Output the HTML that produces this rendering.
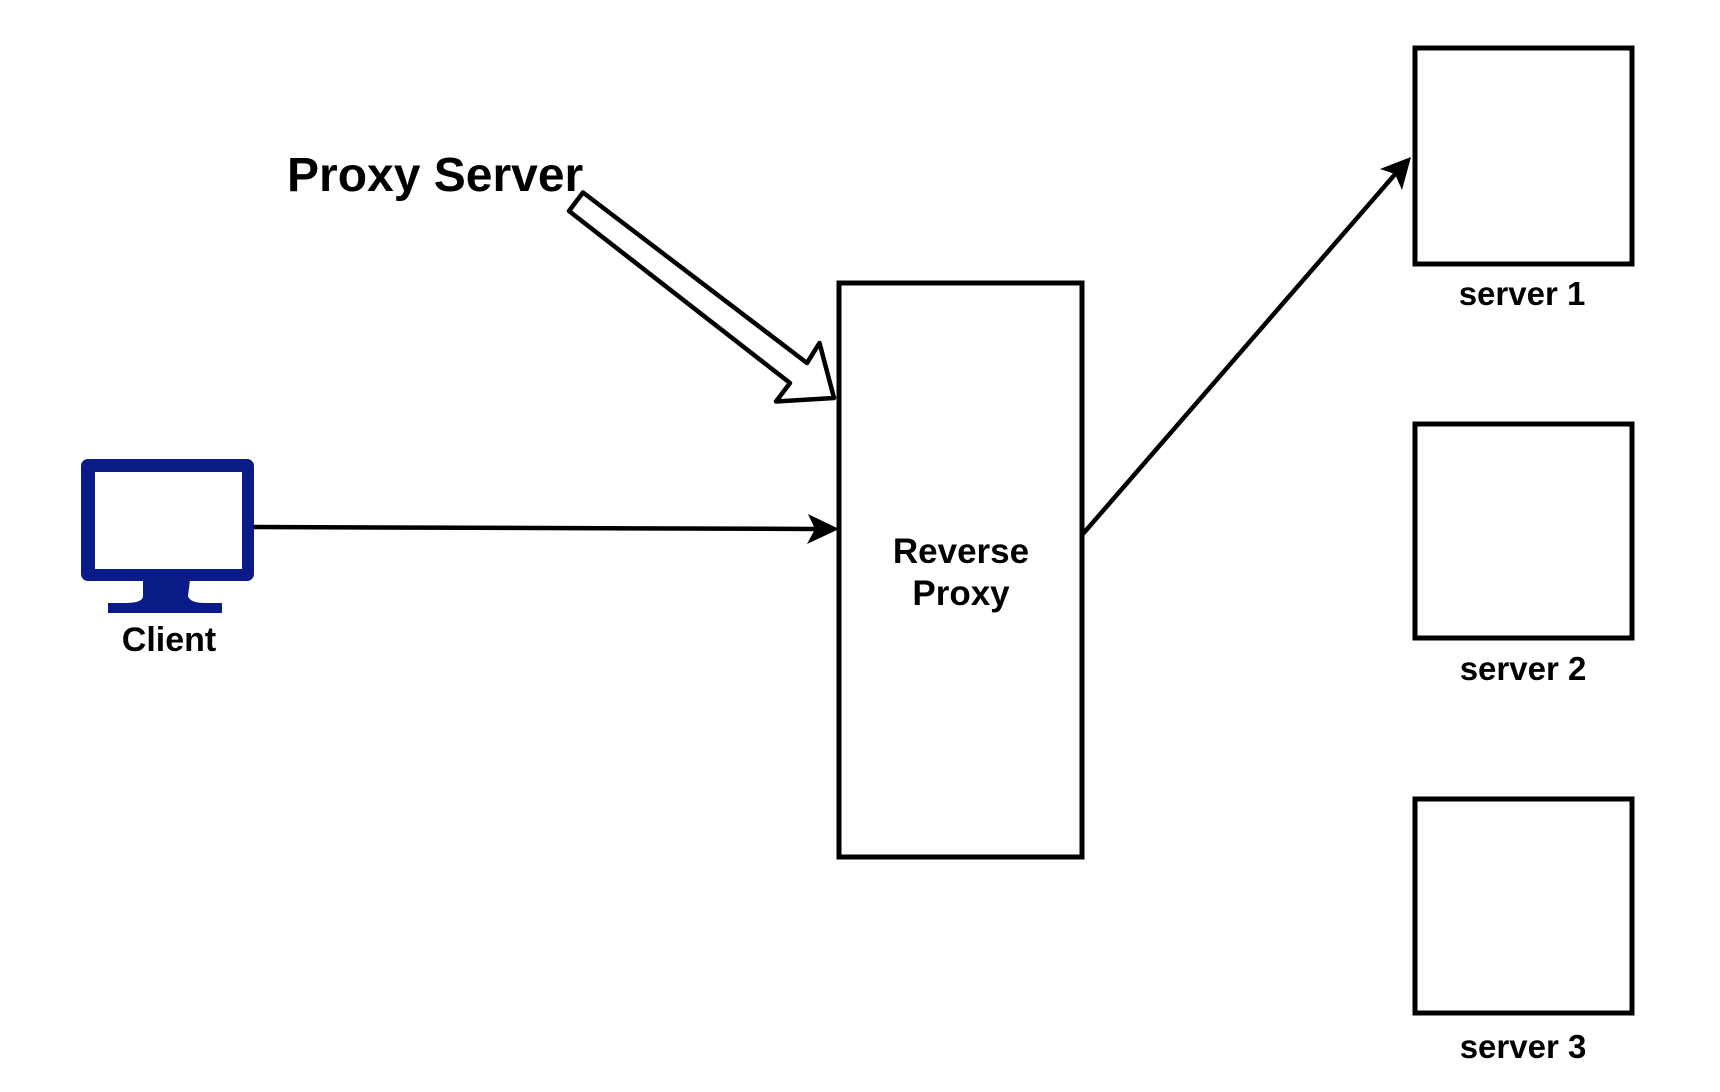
<!DOCTYPE html>
<html><head><meta charset="utf-8"><style>
html,body{margin:0;padding:0;background:#fff;width:1720px;height:1092px;overflow:hidden}
svg{display:block}
text{font-family:"Liberation Sans",Arial,sans-serif;font-weight:bold;fill:#000}
</style></head><body>
<svg width="1720" height="1092" viewBox="0 0 1720 1092" xmlns="http://www.w3.org/2000/svg">
<rect width="1720" height="1092" fill="#fff"/>
<!-- Reverse proxy -->
<rect x="839" y="283" width="243" height="574" fill="#fff" stroke="#000" stroke-width="5"/>
<text x="961" y="563" font-size="35" text-anchor="middle">Reverse</text>
<text x="961" y="605" font-size="35" text-anchor="middle">Proxy</text>
<!-- servers -->
<rect x="1415" y="48" width="217" height="216" fill="#fff" stroke="#000" stroke-width="5"/>
<rect x="1415" y="424" width="217" height="214" fill="#fff" stroke="#000" stroke-width="5"/>
<rect x="1415" y="799" width="217" height="214" fill="#fff" stroke="#000" stroke-width="5"/>
<text x="1522" y="305" font-size="33" text-anchor="middle">server 1</text>
<text x="1523" y="680" font-size="33" text-anchor="middle">server 2</text>
<text x="1523" y="1058" font-size="33" text-anchor="middle">server 3</text>
<!-- client monitor -->
<rect x="81" y="459" width="173" height="122" rx="7" fill="#0a1a87"/>
<rect x="95" y="472" width="147" height="97" fill="#fff"/>
<path d="M143 580 L190 580 L188 596 Q190 603 205 603 L222 603 L222 613 L108 613 L108 603 L125 603 Q143 603 143 596 Z" fill="#0a1a87"/>
<text x="169" y="651" font-size="34" text-anchor="middle">Client</text>
<!-- client arrow -->
<line x1="254" y1="527" x2="817" y2="529" stroke="#000" stroke-width="4.5"/>
<path d="M839 529 L808 514 L815 529 L807 544 Z" fill="#000"/>
<!-- arrow to server 1 -->
<line x1="1082" y1="535" x2="1397" y2="172" stroke="#000" stroke-width="4.5"/>
<path d="M1411 157 L1380 169 L1395 174 L1402 190 Z" fill="#000"/>
<!-- block arrow -->
<polygon points="583,192.5 807,363 819.5,343 834,398 776,401.5 790,383 569,211" fill="#fff" stroke="#000" stroke-width="4.5" stroke-linejoin="round"/>
<text x="287" y="191" font-size="48">Proxy Server</text>
</svg>
</body></html>
